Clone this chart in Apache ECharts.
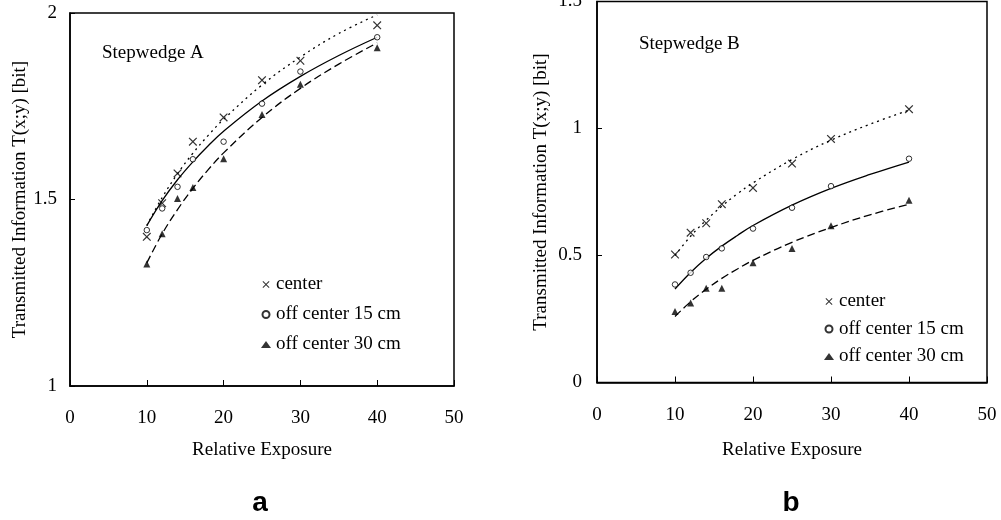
<!DOCTYPE html>
<html>
<head>
<meta charset="utf-8">
<script src="https://cdn.jsdelivr.net/npm/echarts@6/dist/echarts.min.js"></script>
<style>html,body{margin:0;padding:0;background:#fff}#c{width:1001px;height:520px}</style>
</head>
<body>
<div id="c"></div>
<script>
// measured exposures
const xs = [10, 12, 14, 16, 20, 25, 30, 40];
// Stepwedge A
const aCenter = [1.40, 1.49, 1.57, 1.655, 1.72, 1.82, 1.872, 1.967];
const aOff15 = [1.418, 1.476, 1.534, 1.608, 1.655, 1.757, 1.843, 1.935];
const aOff30 = [1.327, 1.408, 1.503, 1.532, 1.609, 1.728, 1.809, 1.907];
// Stepwedge B
const bCenter = [0.504, 0.59, 0.627, 0.702, 0.766, 0.862, 0.959, 1.076];
const bOff15 = [0.386, 0.432, 0.494, 0.528, 0.606, 0.688, 0.773, 0.881];
const bOff30 = [0.280, 0.313, 0.371, 0.371, 0.471, 0.528, 0.617, 0.718];
// fitted curves
const fitX = [10, 12, 14, 16, 18, 20, 25, 30, 35, 40];
const aCenterFit = [1.430, 1.505, 1.569, 1.624, 1.672, 1.715, 1.807, 1.882, 1.945, 1.995];
const aOff15Fit = [1.430, 1.497, 1.553, 1.601, 1.644, 1.683, 1.764, 1.830, 1.886, 1.935];
const aOff30Fit = [1.330, 1.408, 1.473, 1.530, 1.580, 1.625, 1.720, 1.798, 1.863, 1.920];
const bCenterFit = [0.500, 0.576, 0.639, 0.694, 0.743, 0.786, 0.878, 0.954, 1.017, 1.072];
const bOff15Fit = [0.368, 0.433, 0.489, 0.537, 0.579, 0.618, 0.698, 0.764, 0.819, 0.868];
const bOff30Fit = [0.260, 0.318, 0.367, 0.410, 0.447, 0.481, 0.552, 0.610, 0.660, 0.702];

const names = ['center', 'off center 15 cm', 'off center 30 cm'];
const xTicks = [0, 10, 20, 30, 40, 50];

const serif = 'Liberation Serif, Times New Roman, serif';
const XPATH = 'path://M0,1 L1,0 L5,4 L9,0 L10,1 L6,5 L10,9 L9,10 L5,6 L1,10 L0,9 L4,5 Z';

const pairs = (x, y) => x.map((v, i) => [v, y[i]]);

function markerSeries(idx, data) {
  return [
    { name: names[0], type: 'scatter', xAxisIndex: idx, yAxisIndex: idx, data: pairs(xs, data[0]),
      symbol: XPATH, symbolSize: 8.5, itemStyle: { color: '#000' }, z: 5 },
    { name: names[1], type: 'scatter', xAxisIndex: idx, yAxisIndex: idx, data: pairs(xs, data[1]),
      symbol: 'circle', symbolSize: 5.5, itemStyle: { color: '#fff', borderColor: '#000', borderWidth: 1 }, z: 5 },
    { name: names[2], type: 'scatter', xAxisIndex: idx, yAxisIndex: idx, data: pairs(xs, data[2]),
      symbol: 'triangle', symbolSize: 7, itemStyle: { color: '#000' }, z: 5 }
  ];
}
function fitSeries(idx, data) {
  const types = [[2, 4], 'solid', [8, 4]];
  return data.map((d, k) => ({
    name: 'fit' + idx + k, type: 'line', xAxisIndex: idx, yAxisIndex: idx,
    data: pairs(fitX, d), smooth: 0.4, showSymbol: false, symbol: 'none',
    lineStyle: { color: '#000', width: 1.3, type: types[k] }, z: 3
  }));
}

function xAxis(idx, gridIndex, gap, margin) {
  return {
    type: 'value', gridIndex, min: 0, max: 50, interval: 10,
    name: 'Relative Exposure', nameLocation: 'middle', nameGap: gap,
    nameTextStyle: { fontFamily: serif, fontSize: 19, color: '#000' },
    axisLine: { onZero: false, lineStyle: { color: '#000', width: 1.5 } },
    axisTick: { inside: true, length: 6, lineStyle: { color: '#000', width: 1 } },
    axisLabel: { margin, fontFamily: serif, fontSize: 19, color: '#000',
      formatter: v => xTicks.includes(v) ? String(v) : '' },
    splitLine: { show: false }
  };
}
function yAxis(gridIndex, min, max, gap, margin) {
  return {
    type: 'value', gridIndex, min, max, interval: 0.5,
    name: 'Transmitted Information T(x;y) [bit]', nameLocation: 'middle', nameGap: gap,
    nameTextStyle: { fontFamily: serif, fontSize: 19, color: '#000' },
    axisLine: { onZero: false, lineStyle: { color: '#000', width: 1.5 } },
    axisTick: { inside: true, length: 5, lineStyle: { color: '#000', width: 1 } },
    axisLabel: { margin, fontFamily: serif, fontSize: 19, color: '#000' },
    splitLine: { show: false }
  };
}
function legend(left, top, gap) {
  return {
    left, top, orient: 'vertical', itemGap: gap, itemWidth: 10, itemHeight: 7,
    selectedMode: false, data: names,
    textStyle: { fontFamily: serif, fontSize: 19, color: '#000' }
  };
}

const chart = echarts.init(document.getElementById('c'), null, { renderer: 'canvas' });
chart.setOption({
  animation: false,
  backgroundColor: '#fff',
  grid: [
    { left: 70, top: 13, width: 384, height: 373, show: true, borderColor: '#000', borderWidth: 1.5,
      backgroundColor: 'transparent', outerBoundsMode: 'none', containLabel: false },
    { left: 597, top: 1.5, width: 390, height: 381, show: true, borderColor: '#000', borderWidth: 1.5,
      backgroundColor: 'transparent', outerBoundsMode: 'none', containLabel: false }
  ],
  xAxis: [xAxis(0, 0, 55, 23), xAxis(1, 1, 58, 23)],
  yAxis: [yAxis(0, 1, 2, 40, 13), yAxis(1, 0, 1.5, 46, 15)],
  legend: [legend(256, 270, 11), legend(819, 287, 8.5)],
  graphic: [
    { type: 'text', left: 102, top: 44, style: { text: 'Stepwedge A', font: '19px ' + serif, fill: '#000' } },
    { type: 'text', left: 639, top: 35, style: { text: 'Stepwedge B', font: '19px ' + serif, fill: '#000' } },
    { type: 'text', x: 260, y: 503, style: { text: 'a', font: 'bold 28px Liberation Sans, Arial, sans-serif', fill: '#000', textAlign: 'center', textVerticalAlign: 'middle' } },
    { type: 'text', x: 791, y: 503, style: { text: 'b', font: 'bold 28px Liberation Sans, Arial, sans-serif', fill: '#000', textAlign: 'center', textVerticalAlign: 'middle' } }
  ],
  series: [
    ...fitSeries(0, [aCenterFit, aOff15Fit, aOff30Fit]),
    ...fitSeries(1, [bCenterFit, bOff15Fit, bOff30Fit]),
    ...markerSeries(0, [aCenter, aOff15, aOff30]),
    ...markerSeries(1, [bCenter, bOff15, bOff30])
  ]
});
</script>
</body>
</html>
